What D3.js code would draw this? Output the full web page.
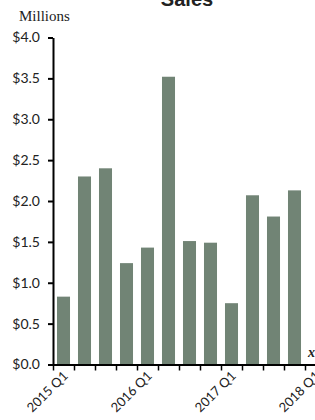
<!DOCTYPE html>
<html>
<head>
<meta charset="utf-8">
<script src="https://cdn.jsdelivr.net/npm/d3@7"></script>
<style>
    html, body { margin: 0; padding: 0; background: #fff; overflow: hidden; }
    svg { display: block; }
</style>
</head>
<body>
<svg id="chart" width="315" height="420"></svg>
<script>
// quarterly sales, millions of dollars
const quarters = [
    "2015 Q1", "2015 Q2", "2015 Q3", "2015 Q4",
    "2016 Q1", "2016 Q2", "2016 Q3", "2016 Q4",
    "2017 Q1", "2017 Q2", "2017 Q3", "2017 Q4",
    "2018 Q1"
];
const sales = [0.83, 2.3, 2.4, 1.24, 1.43, 3.52, 1.51, 1.49, 0.75, 2.07, 1.81, 2.13, null];
const yTicks = [0, 0.5, 1, 1.5, 2, 2.5, 3, 3.5, 4];
const labelledQuarters = ["2015 Q1", "2016 Q1", "2017 Q1", "2018 Q1"];

const svg = d3.select("#chart");

const margins = { left: 53, top: 37.5, bottom: 364.5 };
const step = 21;
const barColor = "#718475";
const tickFont = "Lato, 'Open Sans', sans-serif";

const yScale = d3.scaleLinear().domain([0, 4]).range([margins.bottom, margins.top]);

// the plot runs past the right edge of the picture
const xScale = d3
    .scaleBand()
    .domain(quarters)
    .range([margins.left, margins.left + quarters.length * step])
    .paddingInner(0.38)
    .paddingOuter(0.19);

// boundaries between the bands, for the tick marks
const xEdges = d3.scaleLinear().domain([0, quarters.length]).range(xScale.range());

// bars
svg.append("g")
    .selectAll("rect")
    .data(quarters.map((q, i) => ({ q, v: sales[i] })).filter((d) => d.v != null))
    .enter()
    .append("rect")
    .attr("x", (d) => xScale(d.q))
    .attr("y", (d) => yScale(d.v))
    .attr("width", xScale.bandwidth())
    .attr("height", (d) => yScale(0) - yScale(d.v))
    .attr("fill", barColor);

// y axis
const yAxis = svg
    .append("g")
    .attr("transform", `translate(${margins.left},0)`)
    .call(
        d3
            .axisLeft(yScale)
            .tickValues(yTicks)
            .tickSize(5)
            .tickSizeOuter(0)
            .tickPadding(8)
            .tickFormat((d) => "$" + d3.format(".1f")(d))
    );
yAxis.select(".domain").attr("stroke", "#000").attr("stroke-width", 2);
yAxis.selectAll(".tick line").attr("stroke", "#000").attr("stroke-width", 2);
yAxis.selectAll("text").attr("font-size", 14).attr("font-family", tickFont).attr("fill", "#222");

// x axis: ticks sit between the quarters
const xAxis = svg
    .append("g")
    .attr("transform", `translate(0,${margins.bottom})`)
    .call(d3.axisBottom(xEdges).ticks(quarters.length).tickSize(6).tickSizeOuter(0).tickFormat(""));
xAxis.select(".domain").attr("stroke", "#000").attr("stroke-width", 2);
xAxis.selectAll(".tick line").attr("stroke", "#000").attr("stroke-width", 1.5);

// rotated quarter labels, one per year
svg.append("g")
    .selectAll("text")
    .data(labelledQuarters)
    .enter()
    .append("text")
    .attr("transform", (d) => `translate(${xScale(d) + xScale.bandwidth() / 2 + 2},${margins.bottom + 9}) rotate(-45)`)
    .attr("text-anchor", "end")
    .attr("dy", "0.35em")
    .attr("font-size", 13)
    .attr("font-family", tickFont)
    .attr("fill", "#222")
    .text((d) => d);

// units note
svg.append("text")
    .attr("x", 19)
    .attr("y", 21)
    .attr("font-size", 15)
    .attr("font-family", "'Liberation Serif', 'Times New Roman', serif")
    .attr("fill", "#222")
    .text("Millions");

// title, mostly above the picture
svg.append("text")
    .attr("x", 187)
    .attr("y", 6)
    .attr("text-anchor", "middle")
    .attr("font-size", 20)
    .attr("font-weight", "bold")
    .attr("font-family", "'Liberation Sans', Arial, sans-serif")
    .attr("fill", "#222")
    .text("Sales");

// axis title cut by the right edge
svg.append("text")
    .attr("x", 308)
    .attr("y", 357)
    .attr("font-size", 14)
    .attr("font-weight", "bold")
    .attr("font-style", "italic")
    .attr("font-family", "'Liberation Serif', 'Times New Roman', serif")
    .attr("fill", "#222")
    .text("x");
</script>
</body>
</html>
